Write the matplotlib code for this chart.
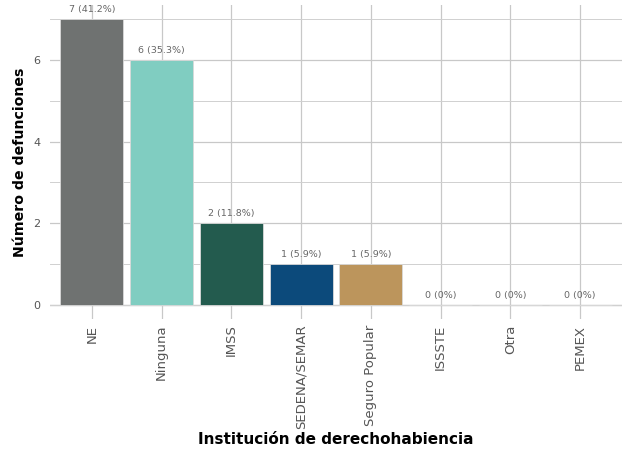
import matplotlib
matplotlib.use("Agg")
import matplotlib.pyplot as plt
from matplotlib.ticker import MultipleLocator

categories = ["NE", "Ninguna", "IMSS", "SEDENA/SEMAR", "Seguro Popular", "ISSSTE", "Otra", "PEMEX"]
values = [7, 6, 2, 1, 1, 0, 0, 0]
labels = ["7 (41.2%)", "6 (35.3%)", "2 (11.8%)", "1 (5.9%)", "1 (5.9%)", "0 (0%)", "0 (0%)", "0 (0%)"]
colors = ["#6F7271", "#80CDC1", "#235B4E", "#0C4A7B", "#BC955C", "#9F2241", "#DDC9A3", "#10312B"]

plt.rcParams['font.family'] = ['DejaVu Sans']

fig = plt.figure(figsize=(6.26, 4.51), dpi=100)
ax = fig.add_axes([50/626, 1 - 319/451, (622-50)/626, (319-5)/451])

x = list(range(1, len(categories) + 1))
ax.bar(x, values, width=0.9, color=colors, edgecolor="#d9d9d9", linewidth=0.6, zorder=2)

for xi, v, lab in zip(x, values, labels):
    ax.annotate(lab, (xi, v), xytext=(0, 3.5), textcoords="offset points",
                ha="center", va="bottom", fontsize=6.8, color="#666666")

ax.set_xlim(0.4, len(categories) + 0.6)
ax.set_ylim(-0.35, 7.35)
ax.set_yticks([0, 2, 4, 6])
ax.yaxis.set_minor_locator(MultipleLocator(1))
ax.set_xticks(x)
ax.set_xticklabels(categories, rotation=90, fontsize=9.5, color="#555555")
ax.tick_params(axis="y", labelsize=8, labelcolor="#555555", length=0, pad=7)
ax.tick_params(axis="x", length=0, pad=4)
ax.tick_params(which="minor", length=0)

ax.grid(True, which="major", axis="both", color="#c8c8c8", linewidth=0.9, zorder=0)
ax.grid(True, which="minor", axis="y", color="#d0d0d0", linewidth=0.7, zorder=0)
ax.axhline(0, color="#d0d0d0", linewidth=0.9, zorder=1)
ax.set_axisbelow(True)
for s in ax.spines.values():
    s.set_visible(False)

ax.set_ylabel("Número de defunciones", fontsize=10.2, fontweight="bold", color="black")
ax.set_xlabel("Institución de derechohabiencia", fontsize=11, fontweight="bold", color="black")
ax.yaxis.set_label_coords(-0.052, 0.5)
ax.xaxis.set_label_coords(0.5, -0.385)
ax.yaxis.label.set_va("center")
ax.xaxis.label.set_va("center")

fig.savefig("out.png", dpi=100)
